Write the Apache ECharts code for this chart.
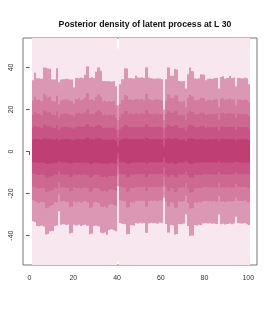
<!DOCTYPE html>
<html><head><meta charset="utf-8">
<script src="https://cdn.jsdelivr.net/npm/echarts@6/dist/echarts.min.js"></script>
<style>html,body{margin:0;padding:0;background:#fff}#c{width:275px;height:314px}</style>
</head><body><div id="c"></div>
<script>
var titleText = 'Posterior density of latent process at L 30';
var xTicks = [0, 20, 40, 60, 80, 100];
var yTicks = [-40, -20, 0, 20, 40];
var cols = [1,2,3,4,5,6,7,8,9,10,11,12,13,14,15,16,17,18,19,20,21,22,23,24,25,26,27,28,29,30,31,32,33,34,35,36,37,38,39,40,41,42,43,44,45,46,47,48,49,50,51,52,53,54,55,56,57,58,59,60,61,62,63,64,65,66,67,68,69,70,71,72,73,74,75,76,77,78,79,80,81,82,83,84,85,86,87,88,89,90,91,92,93,94,95,96,97,98,99,100];

var eHi = [54,54,54,54,54,54,54,54,54,54,54,54,54,54,54,54,54,54,54,54,54,54,54,54,54,54,54,54,54,54,54,54,54,54,54,54,54,54,54,49,54,54,54,54,54,54,54,54,54,54,54,54,54,54,54,54,54,54,54,54,54,54,54,54,54,54,54,54,54,54,54,54,54,54,54,54,54,54,54,54,54,54,54,54,54,54,54,54,54,54,54,54,54,54,54,54,54,54,54,54];
var eLo = [-54,-54,-54,-54,-54,-54,-54,-54,-54,-54,-54,-54,-54,-54,-54,-54,-54,-54,-54,-54,-54,-54,-54,-54,-54,-54,-54,-54,-54,-54,-54,-54,-54,-54,-54,-54,-54,-54,-54,-52.5,-54,-54,-54,-54,-54,-54,-54,-54,-54,-54,-54,-54,-54,-54,-54,-54,-54,-54,-54,-54,-54,-54,-54,-54,-54,-54,-54,-54,-54,-54,-54,-54,-54,-54,-54,-54,-54,-54,-54,-54,-54,-54,-54,-54,-54,-54,-54,-54,-54,-54,-54,-54,-54,-54,-54,-54,-54,-54,-54,-54];

var fHi = [33.9,37.5,34.8,34.8,34.6,40.0,39.8,39.5,39.4,34.3,
 34.2,39.6,33.0,34.3,34.4,34.6,34.5,34.3,34.2,30.5,
 35.0,34.8,35.2,34.9,36.5,40.5,35.0,35.3,34.9,38.0,
 40.0,38.4,33.5,33.6,33.4,33.5,33.3,33.5,31.0,22.0,
 32.0,34.4,39.6,39.5,34.8,35.0,34.7,36.0,35.2,35.1,
 35.3,35.0,40.0,35.2,34.8,34.7,34.6,34.8,34.7,34.4,
 20.0,34.4,40.0,36.0,36.0,39.2,39.0,33.5,33.4,33.6,
 30.0,36.8,40.0,38.2,34.7,34.6,34.8,36.8,36.6,33.9,
 34.6,34.7,34.5,34.8,35.0,30.0,35.5,35.8,34.6,35.0,
 35.9,34.8,35.2,31.0,35.0,34.9,34.7,35.1,34.8,32.0];
var fLo = [-33.2,-33.6,-35.4,-35.6,-35.3,-35.7,-39.5,-39.3,-38.0,-37.8,
 -35.5,-35.2,-28.4,-34.8,-34.6,-35.0,-34.7,-39.0,-38.6,-34.9,
 -35.2,-34.8,-35.5,-35.1,-34.7,-35.3,-39.4,-39.0,-35.4,-35.2,
 -35.6,-38.7,-38.9,-38.5,-39.6,-37.3,-37.0,-37.5,-38.0,-16.5,
 -34.0,-34.4,-34.6,-39.4,-39.2,-35.0,-35.2,-34.0,-34.2,-33.9,
 -34.1,-34.0,-38.7,-34.2,-33.9,-34.1,-34.0,-34.3,-33.8,-34.0,
 -22.0,-34.5,-38.6,-35.0,-35.2,-39.5,-39.3,-34.5,-34.6,-34.3,
 -30.0,-35.5,-40.2,-40.0,-35.0,-35.2,-34.8,-35.1,-34.2,-34.0,
 -34.3,-34.1,-34.4,-34.2,-34.5,-30.0,-34.6,-34.4,-34.7,-34.5,
 -34.3,-34.6,-34.2,-31.0,-34.1,-34.3,-34.2,-34.0,-34.6,-35.0];

var aHi = [24.2,26.0,24.5,24.8,23.9,27.5,26.8,25.6,26.2,24.0,
 23.8,26.5,22.5,24.3,24.7,25.0,24.6,24.1,23.9,22.8,
 24.9,25.3,24.4,24.8,25.6,27.8,24.6,24.9,24.3,26.0,
 27.2,26.1,23.8,24.2,23.6,24.0,23.7,24.1,22.0,15.0,
 22.5,24.4,26.9,26.5,24.7,24.9,24.5,25.1,24.8,24.6,
 25.0,24.3,27.4,25.0,24.6,24.4,24.7,24.9,24.5,24.2,
 15.0,24.3,27.1,25.5,25.2,26.8,26.6,23.9,23.7,24.0,
 21.0,25.4,27.0,26.2,24.5,24.3,24.7,25.6,25.4,23.9,
 24.5,24.6,24.3,24.7,24.8,21.0,25.1,25.3,24.6,24.8,
 25.2,24.6,24.9,22.0,24.7,24.6,24.4,24.9,24.5,23.5];
var aLo = [-23.0,-23.5,-24.2,-24.5,-24.0,-24.3,-27.0,-26.8,-26.0,-25.5,
 -24.0,-24.3,-20.5,-23.8,-23.6,-24.1,-23.9,-26.5,-26.2,-23.7,
 -24.2,-23.9,-24.4,-24.0,-23.6,-24.2,-26.9,-26.5,-24.3,-24.0,
 -24.5,-26.2,-26.4,-26.0,-26.8,-25.3,-25.0,-25.4,-25.8,-11.0,
 -23.2,-23.5,-23.8,-26.7,-26.5,-24.0,-24.2,-23.4,-23.6,-23.3,
 -23.5,-23.4,-26.2,-23.6,-23.3,-23.5,-23.4,-23.7,-23.2,-23.4,
 -16.5,-23.8,-26.1,-24.2,-24.4,-26.8,-26.6,-23.8,-23.9,-23.6,
 -21.0,-24.5,-27.2,-27.0,-24.2,-24.4,-24.0,-24.3,-23.6,-23.4,
 -23.7,-23.5,-23.8,-23.6,-23.9,-21.0,-23.9,-23.7,-24.0,-23.8,
 -23.6,-23.9,-23.5,-22.0,-23.4,-23.6,-23.5,-23.3,-23.9,-24.2];

var bHi = [17.5,18.8,17.9,18.1,17.4,19.6,19.2,18.5,18.9,17.6,
 17.3,19.0,16.0,17.7,18.0,18.2,17.9,17.6,17.4,16.6,
 18.1,18.4,17.8,18.0,18.6,20.0,17.9,18.1,17.7,18.8,
 19.6,18.9,17.3,17.6,17.1,17.5,17.2,17.6,16.0,10.5,
 16.3,17.8,19.4,19.1,17.9,18.1,17.8,18.3,18.0,17.9,
 18.2,17.7,19.7,18.2,17.9,17.7,18.0,18.1,17.8,17.6,
 11.0,17.7,19.5,18.5,18.3,19.3,19.2,17.4,17.2,17.5,
 15.0,18.4,19.5,18.9,17.8,17.6,18.0,18.6,18.4,17.3,
 17.8,17.9,17.7,18.0,18.1,15.0,18.3,18.4,17.9,18.0,
 18.3,17.9,18.1,16.0,18.0,17.9,17.7,18.1,17.8,17.0];
var bLo = [-16.6,-16.9,-17.4,-17.6,-17.3,-17.5,-19.4,-19.2,-18.7,-18.4,
 -17.3,-17.5,-14.8,-17.1,-17.0,-17.4,-17.2,-19.0,-18.8,-17.0,
 -17.4,-17.2,-17.6,-17.3,-17.0,-17.4,-19.4,-19.0,-17.5,-17.3,
 -17.6,-18.8,-19.0,-18.7,-19.3,-18.2,-18.0,-18.3,-18.6,-7.0,
 -16.7,-16.9,-17.1,-19.2,-19.0,-17.3,-17.4,-16.8,-17.0,-16.8,
 -16.9,-16.8,-18.8,-17.0,-16.8,-16.9,-16.8,-17.0,-16.7,-16.8,
 -12.0,-17.1,-18.8,-17.4,-17.6,-19.3,-19.1,-17.1,-17.2,-17.0,
 -15.0,-17.6,-19.6,-19.4,-17.4,-17.6,-17.3,-17.5,-17.0,-16.8,
 -17.0,-16.9,-17.1,-17.0,-17.2,-15.0,-17.2,-17.0,-17.3,-17.1,
 -17.0,-17.2,-16.9,-15.5,-16.8,-17.0,-16.9,-16.8,-17.2,-17.4];

var cHi = [11.4,12.2,11.6,11.8,11.3,12.7,12.5,12.0,12.3,11.4,
 11.2,12.4,10.4,11.5,11.7,11.8,11.6,11.4,11.3,10.8,
 11.8,12.0,11.6,11.7,12.1,13.0,11.6,11.8,11.5,12.2,
 12.7,12.3,11.2,11.4,11.1,11.4,11.2,11.4,10.4,6.5,
 10.6,11.6,12.6,12.4,11.6,11.8,11.6,11.9,11.7,11.6,
 11.8,11.5,12.8,11.8,11.6,11.5,11.7,11.8,11.6,11.4,
 6.5,11.5,12.7,12.0,11.9,12.5,12.5,11.3,11.2,11.4,
 9.8,12.0,12.7,12.3,11.6,11.4,11.7,12.1,12.0,11.2,
 11.6,11.6,11.5,11.7,11.8,9.8,11.9,12.0,11.6,11.7,
 11.9,11.6,11.8,10.4,11.7,11.6,11.5,11.8,11.6,11.0];
var cLo = [-10.6,-10.8,-11.1,-11.2,-11.0,-11.2,-12.4,-12.2,-11.9,-11.7,
 -11.0,-11.2,-9.4,-10.9,-10.8,-11.1,-11.0,-12.1,-12.0,-10.8,
 -11.1,-11.0,-11.2,-11.0,-10.8,-11.1,-12.4,-12.1,-11.2,-11.0,
 -11.2,-12.0,-12.1,-11.9,-12.3,-11.6,-11.5,-11.7,-11.9,-3.5,
 -10.6,-10.8,-10.9,-12.2,-12.1,-11.0,-11.1,-10.7,-10.8,-10.7,
 -10.8,-10.7,-12.0,-10.8,-10.7,-10.8,-10.7,-10.8,-10.6,-10.7,
 -7.5,-10.9,-12.0,-11.1,-11.2,-12.3,-12.2,-10.9,-11.0,-10.8,
 -9.6,-11.2,-12.5,-12.4,-11.1,-11.2,-11.0,-11.2,-10.8,-10.7,
 -10.8,-10.8,-10.9,-10.8,-11.0,-9.6,-11.0,-10.8,-11.0,-10.9,
 -10.8,-11.0,-10.8,-9.9,-10.7,-10.8,-10.8,-10.7,-11.0,-11.1];

var dHi = [5.6,6.1,5.8,5.9,5.6,6.3,6.2,6.0,6.1,5.7,
 5.6,6.2,5.2,5.7,5.8,5.9,5.8,5.7,5.6,5.4,
 5.9,6.0,5.8,5.8,6.0,6.5,5.8,5.9,5.7,6.1,
 6.3,6.1,5.6,5.7,5.5,5.7,5.6,5.7,5.2,2.5,
 5.3,5.8,6.3,6.2,5.8,5.9,5.8,5.9,5.8,5.8,
 5.9,5.7,6.4,5.9,5.8,5.7,5.8,5.9,5.8,5.7,
 2.0,5.7,6.3,6.0,5.9,6.2,6.2,5.6,5.6,5.7,
 4.9,6.0,6.3,6.1,5.8,5.7,5.8,6.0,6.0,5.6,
 5.8,5.8,5.7,5.8,5.9,4.9,5.9,6.0,5.8,5.8,
 5.9,5.8,5.9,5.2,5.8,5.8,5.7,5.9,5.8,5.5];
var dLo = [-5.1,-5.2,-5.3,-5.4,-5.3,-5.4,-5.9,-5.8,-5.7,-5.6,
 -5.3,-5.4,-4.5,-5.2,-5.2,-5.3,-5.3,-5.8,-5.7,-5.2,
 -5.3,-5.3,-5.4,-5.3,-5.2,-5.3,-5.9,-5.8,-5.4,-5.3,
 -5.4,-5.7,-5.8,-5.7,-5.9,-5.6,-5.5,-5.6,-5.7,-0.5,
 -5.1,-5.2,-5.2,-5.8,-5.8,-5.3,-5.3,-5.1,-5.2,-5.1,
 -5.2,-5.1,-5.7,-5.2,-5.1,-5.2,-5.1,-5.2,-5.1,-5.1,
 -3.0,-5.2,-5.7,-5.3,-5.4,-5.9,-5.8,-5.2,-5.3,-5.2,
 -4.6,-5.4,-6.0,-5.9,-5.3,-5.4,-5.3,-5.4,-5.2,-5.1,
 -5.2,-5.2,-5.2,-5.2,-5.3,-4.6,-5.3,-5.2,-5.3,-5.2,
 -5.2,-5.3,-5.2,-4.7,-5.1,-5.2,-5.2,-5.1,-5.3,-5.3];

var bands = [
  {lo: eLo, hi: eHi, color: '#f8e7ee'},
  {lo: fLo, hi: fHi, color: '#db98b4'},
  {lo: aLo, hi: aHi, color: '#d47c9f'},
  {lo: bLo, hi: bHi, color: '#cd6890'},
  {lo: cLo, hi: cHi, color: '#c75483'},
  {lo: dLo, hi: dHi, color: '#c03f72'}
];

function makeSeries(band) {
  var data = cols.map(function (c, i) { return [c, band.lo[i], band.hi[i]]; });
  return {
    type: 'custom',
    silent: true,
    clip: true,
    data: data,
    encode: {x: 0, y: [1, 2]},
    renderItem: function (params, api) {
      var x0 = api.value(0);
      var p0 = api.coord([x0, api.value(1)]);
      var p1 = api.coord([x0 + 1, api.value(2)]);
      var xa = Math.round(p0[0]), xb = Math.round(p1[0]);
      return {
        type: 'rect',
        shape: {x: xa, y: p1[1], width: xb - xa, height: p0[1] - p1[1]},
        style: {fill: band.color}
      };
    }
  };
}

var chart = echarts.init(document.getElementById('c'), null, {renderer: 'canvas'});
chart.setOption({
  animation: false,
  backgroundColor: '#ffffff',
  title: {
    text: titleText, left: 140, top: 15, textAlign: 'center',
    textStyle: {fontFamily: 'Liberation Sans', fontWeight: 'bold', fontSize: 8.7, color: '#111'}
  },
  grid: {left: 23, right: 18, top: 38, bottom: 49, show: true, borderColor: '#777', borderWidth: 1, backgroundColor: 'transparent'},
  xAxis: {
    type: 'value', min: -3, max: 104,
    axisLine: {show: false},
    splitLine: {show: false},
    axisTick: {show: true, length: 3.5, customValues: xTicks, lineStyle: {color: '#555'}},
    axisLabel: {customValues: xTicks, fontSize: 7, color: '#333', fontFamily: 'Liberation Sans', margin: 10}
  },
  yAxis: {
    type: 'value', min: -54, max: 54,
    axisLine: {show: false},
    splitLine: {show: false},
    axisTick: {show: true, length: 3.5, customValues: yTicks, lineStyle: {color: '#555'}},
    axisLabel: {customValues: yTicks, rotate: 90, fontSize: 7, color: '#333', fontFamily: 'Liberation Sans', margin: 8}
  },
  series: bands.map(makeSeries)
});
</script>
</body></html>
